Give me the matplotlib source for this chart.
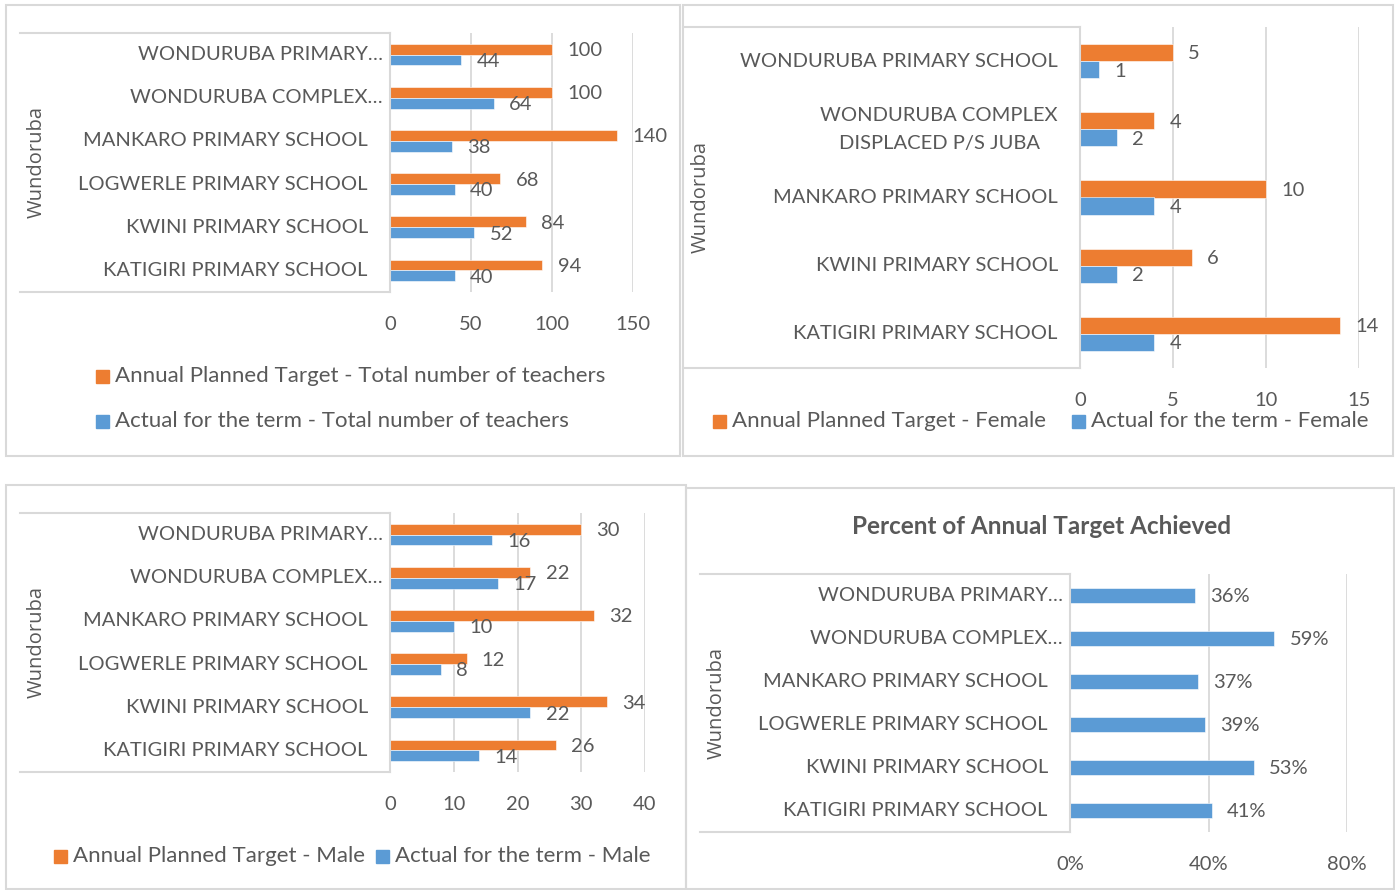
import matplotlib
matplotlib.use("Agg")
import matplotlib.pyplot as plt
from matplotlib.patches import Rectangle
from matplotlib.lines import Line2D
from matplotlib.ticker import PercentFormatter

# data (bottom to top, as Excel draws them)
schools = ["KATIGIRI PRIMARY SCHOOL", "KWINI PRIMARY SCHOOL", "LOGWERLE PRIMARY SCHOOL",
        "MANKARO PRIMARY SCHOOL", "WONDURUBA COMPLEX…", "WONDURUBA PRIMARY…"]
total_target = [94, 84, 68, 140, 100, 100]
total_actual = [40, 52, 40, 38, 64, 44]

female_schools = ["KATIGIRI PRIMARY SCHOOL", "KWINI PRIMARY SCHOOL", "MANKARO PRIMARY SCHOOL",
        "WONDURUBA COMPLEX\nDISPLACED P/S JUBA", "WONDURUBA PRIMARY SCHOOL"]
female_target = [14, 6, 10, 4, 5]
female_actual = [4, 2, 4, 2, 1]

male_target = [26, 34, 12, 32, 22, 30]
male_actual = [14, 22, 8, 10, 17, 16]

pct_achieved = [0.41, 0.53, 0.39, 0.37, 0.59, 0.36]

group_name = "Wundoruba"
ORANGE = "#ED7D31"
BLUE = "#5B9BD5"
TEXT = "#595959"
GRID = "#D9D9D9"
FONT = "Lato"
FS = 14.5
LEG_FS = 16

W, H = 1395, 890
fig = plt.figure(figsize=(W / 100.0, H / 100.0), dpi=100)
fig.patch.set_facecolor("white")


def fx(x):
    return x / float(W)


def fy(y):
    return 1.0 - y / float(H)


def frame(x0, y0, x1, y1):
    fig.patches.append(Rectangle((fx(x0), fy(y1)), fx(x1 - x0), (y1 - y0) / float(H),
            transform=fig.transFigure, fill=False, edgecolor=GRID, lw=1.5))


def hline(x0, x1, y):
    fig.add_artist(Line2D([fx(x0), fx(x1)], [fy(y), fy(y)], color=GRID, lw=1.5))


def legend_item(x, y, label, colour):
    fig.patches.append(Rectangle((fx(x), fy(y + 6.5)), 13.0 / W, 13.0 / H,
            transform=fig.transFigure, color=colour))
    fig.text(fx(x + 19), fy(y), label, va="center", ha="left", color=TEXT,
            fontsize=LEG_FS, family=FONT)


def panel(box, box_left, xmax, step, names, series, wlabel_xy, bar_h, pct=False):
    x0, y0, x1, y1 = box
    ax = fig.add_axes([fx(x0), fy(y1), fx(x1 - x0), (y1 - y0) / float(H)])
    n = len(names)
    ax.set_xlim(0, xmax)
    ax.set_ylim(-0.5, n - 0.5)
    for s in ax.spines.values():
        s.set_visible(False)
    ticks = [i * step for i in range(int(round(xmax / step)) + 1)]
    ax.set_xticks(ticks)
    if pct:
        ax.xaxis.set_major_formatter(PercentFormatter(1.0, decimals=0))
    ax.tick_params(axis="x", length=0, pad=17, labelsize=FS, labelcolor=TEXT)
    for lbl in ax.get_xticklabels():
        lbl.set_family(FONT)
    ax.set_yticks([])
    for t in ticks:
        ax.axvline(t, color=GRID, lw=1.3, zorder=0)
    # series: list of (values, colour, offset)
    for (vals, colour, off) in series:
        pos = [i + off for i in range(n)]
        ax.barh(pos, vals, height=bar_h, color=colour, edgecolor="white", lw=0.4, zorder=2)
        for (p, v) in zip(pos, vals):
            txt = "%d%%" % round(v * 100) if pct else "%d" % v
            ax.annotate(txt, xy=(v, p), xytext=(11, -1), textcoords="offset points",
                    ha="left", va="center", fontsize=FS, color=TEXT, family=FONT,
                    annotation_clip=False)
    for (i, name) in enumerate(names):
        pad = 5 if name.endswith("…") else 16
        ax.annotate(name, xy=(0, i), xycoords=("axes fraction", "data"),
                xytext=(-pad, 0), textcoords="offset points", ha="right", va="center",
                multialignment="center", fontsize=FS, color=TEXT, family=FONT,
                linespacing=1.75)
    # outer category box
    hline(box_left, x0, y0)
    hline(box_left, x0, y1)
    fig.add_artist(Line2D([fx(x0), fx(x0)], [fy(y0), fy(y1)], color=GRID, lw=1.5))
    fig.text(fx(wlabel_xy[0]), fy(wlabel_xy[1]), group_name, rotation=90, ha="center",
            va="center", fontsize=FS, color=TEXT, family="Open Sans")
    return ax


# panel frames
frame(6, 5, 680, 456)
frame(683, 5, 1393, 456)
frame(6, 485, 686, 889)
frame(686, 488, 1394, 889)

off = 0.125
bh = 0.25

panel((390, 33, 633, 292), 20, 150, 50, schools,
        [(total_target, ORANGE, off), (total_actual, BLUE, -off)], (37, 162), bh)
legend_item(96, 376, "Annual Planned Target - Total number of teachers", ORANGE)
legend_item(96, 421, "Actual for the term - Total number of teachers", BLUE)

panel((1080, 27, 1359, 368), 683, 15, 5, female_schools,
        [(female_target, ORANGE, off), (female_actual, BLUE, -off)], (701, 197), bh)
legend_item(713, 421, "Annual Planned Target - Female", ORANGE)
legend_item(1072, 421, "Actual for the term - Female", BLUE)

panel((390, 513, 645, 772), 20, 40, 10, schools,
        [(male_target, ORANGE, off), (male_actual, BLUE, -off)], (37, 642), bh)
legend_item(54, 856, "Annual Planned Target - Male", ORANGE)
legend_item(376, 856, "Actual for the term - Male", BLUE)

panel((1070, 574, 1347, 832), 700, 0.8, 0.4, schools,
        [(pct_achieved, BLUE, 0.0)], (717, 703), 0.35, pct=True)
fig.text(fx(1042), fy(526), "Percent of Annual Target Achieved", ha="center", va="center",
        fontsize=17.5, fontweight="bold", color=TEXT, family=FONT)

fig.savefig("out.png", dpi=100)
